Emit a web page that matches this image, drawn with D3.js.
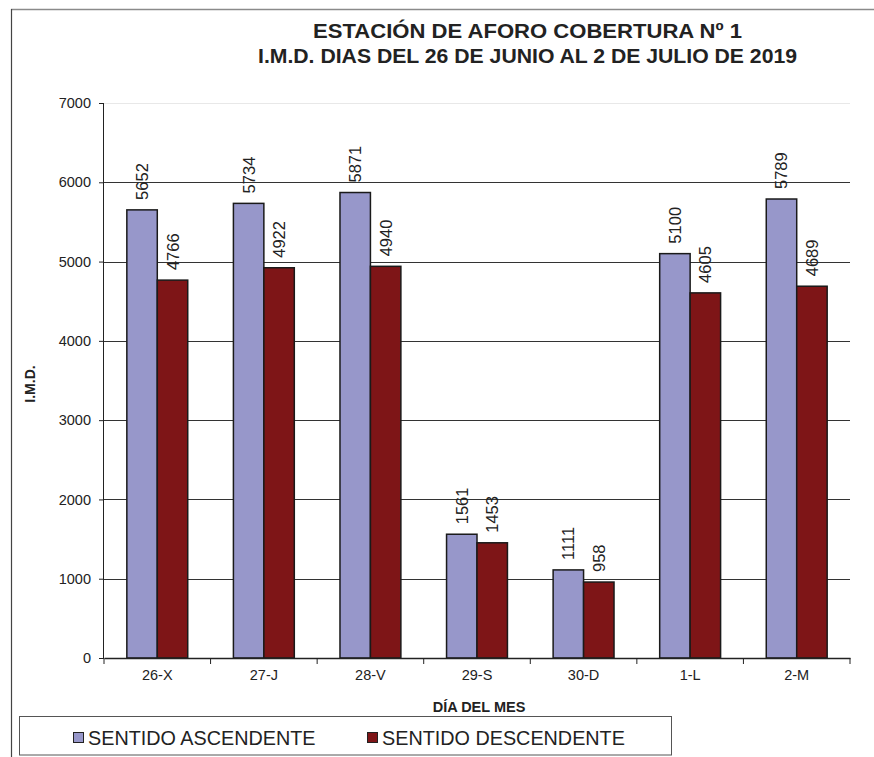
<!DOCTYPE html>
<html><head><meta charset="utf-8">
<script src="https://cdn.jsdelivr.net/npm/d3@7"></script>
<style>body{margin:0;background:#fff}svg{display:block;font-family:"Liberation Sans",Arial,sans-serif}</style>
</head><body><svg id="c" width="874" height="757"></svg>
<script>
const categories = ["26-X","27-J","28-V","29-S","30-D","1-L","2-M"];
const seriesNames = ["SENTIDO ASCENDENTE","SENTIDO DESCENDENTE"];
const ascendente = [5652,5734,5871,1561,1111,5100,5789];
const descendente = [4766,4922,4940,1453,958,4605,4689];
const yTicks = [0,1000,2000,3000,4000,5000,6000,7000];
const titleLines = ["ESTACIÓN DE AFORO COBERTURA Nº 1","I.M.D. DIAS DEL 26 DE JUNIO AL 2 DE JULIO DE 2019"];
const colors = ["#9797CA","#7E1517"];

const svg = d3.select("#c");
const L = 104, R = 850, T = 103, B = 658;
const x0 = d3.scaleBand().domain(categories).range([L,R]).padding(0);
const barW = x0.step()/3.5;
const x1 = d3.scaleBand().domain(seriesNames).range([0,2*barW]);
const y = d3.scaleLinear().domain([0,7000]).range([B,T]);
const data = categories.map((c,i)=>({cat:c, vals:[ascendente[i],descendente[i]]}));

// frame
svg.append("line").attr("x1",11).attr("x2",874).attr("y1",9.5).attr("y2",9.5).attr("stroke","#8a8a8a").attr("stroke-width",1.5);
svg.append("line").attr("x1",11.5).attr("x2",11.5).attr("y1",9).attr("y2",757).attr("stroke","#444").attr("stroke-width",1.2);

// title
const titleW = [429,539];
svg.append("text").attr("text-anchor","middle").attr("font-weight","bold").attr("font-size",20.5).attr("fill","#222")
  .selectAll("tspan").data(titleLines).join("tspan").attr("x",527.5).attr("y",(d,i)=>38+i*25)
  .attr("textLength",(d,i)=>titleW[i]).attr("lengthAdjust","spacingAndGlyphs").text(d=>d);

// gridlines
svg.append("g").selectAll("line").data(yTicks.filter(t=>t>0)).join("line")
  .attr("x1",L).attr("x2",R).attr("y1",d=>Math.round(y(d))+0.5).attr("y2",d=>Math.round(y(d))+0.5)
  .attr("stroke",d=>d===7000?"#e8e8e8":"#333").attr("stroke-width",1);

// bars
const g = svg.append("g").selectAll("g").data(data).join("g")
  .attr("transform",d=>`translate(${x0(d.cat)+(x0.step()-2*barW)/2},0)`);
g.selectAll("rect").data(d=>d.vals.map((v,j)=>({v,s:seriesNames[j],j}))).join("rect")
  .attr("x",d=>x1(d.s)).attr("width",x1.bandwidth()).attr("y",d=>y(d.v)).attr("height",d=>B-y(d.v))
  .attr("fill",d=>colors[d.j]).attr("stroke","#1a1a1a").attr("stroke-width",1.5);
g.selectAll("text").data(d=>d.vals.map((v,j)=>({v,s:seriesNames[j],j}))).join("text")
  .attr("transform",d=>`translate(${x1(d.s)+x1.bandwidth()/2+6},${y(d.v)-10}) rotate(-90)`)
  .attr("font-size",16.5).attr("fill","#222").text(d=>d.v);

// axes
const yAxis = svg.append("g").attr("transform",`translate(${L},0)`)
  .call(d3.axisLeft(y).tickValues(yTicks).tickSize(5).tickPadding(8).tickFormat(d3.format("d")));
yAxis.select(".domain").attr("stroke","#222").attr("d",`M-0.5,${T}V${B}`);
yAxis.selectAll(".tick line").attr("stroke","#222");
yAxis.selectAll("text").attr("font-size",14.5).attr("fill","#222").attr("font-family","Liberation Sans,Arial,sans-serif");

const xAxis = svg.append("g").attr("transform",`translate(0,${B})`)
  .call(d3.axisBottom(x0).tickSize(0).tickPadding(12));
xAxis.select(".domain").attr("stroke","#222").attr("stroke-width",1.5);
xAxis.selectAll("text").attr("font-size",14.5).attr("fill","#222").attr("font-family","Liberation Sans,Arial,sans-serif");
svg.append("g").selectAll("line").data(d3.range(categories.length+1)).join("line")
  .attr("x1",i=>L+i*x0.step()).attr("x2",i=>L+i*x0.step()).attr("y1",B).attr("y2",B+6).attr("stroke","#222");

// axis titles
svg.append("text").attr("transform","translate(35,384) rotate(-90)").attr("text-anchor","middle")
  .attr("font-weight","bold").attr("font-size",14).attr("fill","#222").text("I.M.D.");
svg.append("text").attr("x",479).attr("y",712).attr("text-anchor","middle")
  .attr("font-weight","bold").attr("font-size",14.5).attr("fill","#222").text("DÍA DEL MES");

// legend
svg.append("rect").attr("x",19.5).attr("y",716.5).attr("width",652).attr("height",38.5).attr("fill","#fff").attr("stroke","#555");
const lx = [73,367];
const lg = svg.append("g").selectAll("g").data(seriesNames).join("g").attr("transform",(d,i)=>`translate(${lx[i]},0)`);
lg.append("rect").attr("x",0.5).attr("y",732.5).attr("width",10).attr("height",10).attr("fill",(d,i)=>colors[i]).attr("stroke","#222");
lg.append("text").attr("x",15).attr("y",744.5).attr("font-size",19.8).attr("fill","#222").text(d=>d);
</script></body></html>
